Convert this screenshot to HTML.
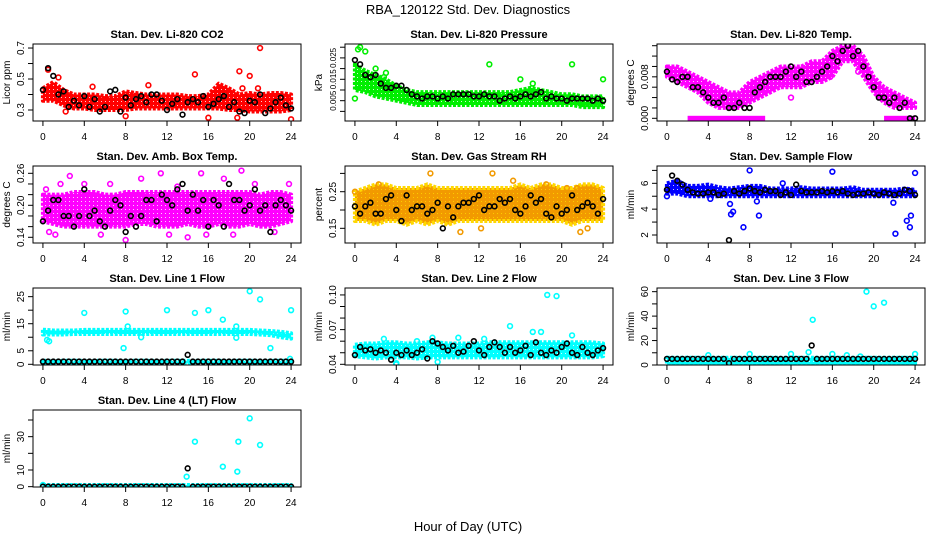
<!DOCTYPE html>
<html><head><meta charset="utf-8"><style>
html,body{margin:0;padding:0;background:#fff}
svg{display:block;font-family:"Liberation Sans",sans-serif}
</style></head><body>
<svg id="chart" width="936" height="540" viewBox="0 0 936 540" xmlns="http://www.w3.org/2000/svg">
<defs id="defs"></defs>
<text x="468" y="14" text-anchor="middle" font-size="13">RBA_120122  Std. Dev. Diagnostics</text>
<text x="468" y="531" text-anchor="middle" font-size="13">Hour of Day (UTC)</text>
</svg>
<script>
const xTicks = [0,4,8,12,16,20,24];
const halfHours = [];
for (let i = 0; i <= 48; i++) halfHours.push(i * 0.5);
const bandHours = [0,1,2,3,4,5,6,7,8,9,10,11,12,13,14,15,16,17,18,19,20,21,22,23,24];

// CO2
const co2Low = [0.36,0.36,0.33,0.31,0.31,0.30,0.30,0.30,0.30,0.31,0.31,0.31,0.31,0.31,0.31,0.31,0.31,0.31,0.30,0.30,0.29,0.29,0.29,0.29,0.30];
const co2High = [0.44,0.48,0.43,0.40,0.40,0.40,0.39,0.39,0.42,0.41,0.40,0.40,0.40,0.40,0.39,0.39,0.40,0.47,0.44,0.40,0.41,0.40,0.41,0.41,0.40];
const co2OutX = [0.5,1.5,4.8,10.2,14.7,16,18.8,19,19.3,20,20.8,21,24,2.2,8];
const co2OutY = [0.56,0.51,0.45,0.46,0.53,0.25,0.25,0.55,0.44,0.52,0.44,0.70,0.24,0.29,0.26];
const co2Black = [0.43,0.57,0.52,0.40,0.42,0.32,0.36,0.33,0.39,0.32,0.37,0.29,0.32,0.42,0.43,0.29,0.38,0.33,0.37,0.39,0.35,0.40,0.40,0.36,0.30,0.34,0.37,0.27,0.35,0.37,0.35,0.39,0.32,0.34,0.37,0.39,0.32,0.35,0.29,0.28,0.36,0.35,0.40,0.28,0.31,0.35,0.38,0.33,0.31];
// Pressure
const prLow = [.010,.009,.007,.006,.005,.004,.003,.003,.003,.003,.003,.003,.003,.003,.003,.003,.003,.003,.003,.003,.003,.003,.002,.002,.002];
const prHigh = [.022,.019,.017,.015,.012,.010,.009,.009,.009,.009,.009,.009,.009,.009,.009,.009,.010,.011,.010,.009,.008,.008,.007,.007,.007];
const prOutX = [0.3,0.5,13,21,24,0,16,17.2,1,2,3,2.8];
const prOutY = [.029,.030,.022,.022,.015,.006,.015,.013,.028,.020,.018,.016];
const prBlack = [.024,.022,.017,.016,.017,.013,.011,.011,.012,.012,.010,.008,.007,.006,.007,.007,.006,.007,.006,.008,.008,.008,.008,.007,.007,.008,.007,.007,.005,.006,.007,.006,.007,.008,.007,.008,.009,.006,.007,.006,.006,.005,.006,.006,.006,.006,.005,.006,.005];
// Li-820 Temp
const ltLow = [.008,.007,.006,.005,.003,.002,.002,.002,.003,.004,.005,.006,.006,.006,.007,.007,.008,.011,.011,.008,.005,.003,.002,.002,.002];
const ltHigh = [.010,.010,.009,.008,.007,.006,.005,.005,.007,.008,.009,.010,.010,.010,.011,.011,.013,.014,.014,.012,.008,.006,.005,.004,.003];
const ltZeroStart = [2,21];
const ltZeroEnd = [9.5,24];
const ltOutX = [0.3,15.8,18.5,12];
const ltOutY = [.0095,.008,.009,.004];
const ltBlack = [.009,.0075,.007,.008,.008,.006,.006,.005,.004,.003,.003,.004,.002,.002,.003,.002,.002,.005,.006,.007,.008,.008,.008,.009,.010,.008,.009,.007,.007,.008,.009,.010,.012,.011,.013,.014,.012,.013,.010,.008,.006,.004,.004,.003,.004,.002,.003,0,0];
// Amb Box Temp
const abLow = [.17,.165,.16,.16,.16,.16,.16,.16,.16,.165,.165,.16,.16,.16,.165,.16,.16,.165,.16,.16,.165,.16,.16,.165,.17];
const abHigh = [.22,.22,.22,.225,.225,.225,.22,.22,.225,.225,.225,.225,.225,.225,.225,.225,.225,.225,.225,.225,.225,.22,.225,.225,.22];
const abOutX = [1.7,2.6,4,8,11.4,15.3,19.2,9.5,13,17.5,23.8,0.6,1.2,5.6,12.2,14,15.8,18.4,22.4,0.3,6.5,20.5];
const abOutY = [.24,.255,.24,.135,.26,.26,.265,.25,.235,.25,.24,.15,.145,.145,.145,.14,.145,.145,.15,.23,.24,.24];
const abBlack = [.17,.19,.21,.21,.18,.18,.16,.18,.23,.18,.19,.17,.16,.19,.21,.20,.15,.18,.16,.18,.21,.21,.17,.22,.21,.20,.23,.24,.19,.22,.19,.21,.16,.21,.20,.16,.24,.21,.21,.19,.20,.23,.19,.20,.15,.20,.21,.20,.19];
// Gas stream RH
const rhLow = [.17,.17,.16,.17,.17,.16,.17,.16,.17,.16,.17,.17,.17,.17,.17,.17,.17,.17,.17,.17,.17,.16,.17,.17,.17];
const rhHigh = [.25,.26,.27,.27,.26,.26,.26,.27,.26,.26,.26,.26,.26,.26,.26,.26,.27,.26,.27,.27,.26,.26,.27,.27,.26];
const rhOutX = [0,2.3,7.3,13.3,15.3,18.5,20.5,21.5,21.8,10.2,12.2,22.5];
const rhOutY = [.25,.27,.30,.30,.28,.27,.26,.26,.14,.14,.15,.15];
const rhBlack = [.21,.19,.21,.22,.19,.19,.23,.24,.20,.17,.24,.20,.21,.21,.19,.20,.22,.15,.21,.18,.21,.22,.22,.23,.24,.20,.21,.21,.23,.22,.23,.20,.19,.21,.24,.22,.23,.19,.18,.21,.19,.20,.24,.20,.21,.22,.21,.19,.23];
// Sample flow
const sfLow = [5.2,5.2,5.0,5.0,5.0,5.0,5.0,5.0,5.0,5.0,5.0,5.0,5.0,5.0,5.0,5.0,5.0,5.0,5.0,5.0,5.0,5.0,5.0,5.0,5.0];
const sfHigh = [6.0,6.2,5.8,5.8,5.9,5.7,5.6,5.7,5.8,5.8,5.6,5.6,5.6,5.7,5.6,5.6,5.6,5.6,5.7,5.5,5.5,5.5,5.5,5.6,5.5];
const sfOutX = [0,6.1,6.2,6.4,7.4,8,8.9,11.2,16,21.9,22.1,23.2,23.5,23.6,24,8.7,4.2];
const sfOutY = [5.0,4.4,3.6,3.8,2.6,7.0,3.5,6.0,6.9,4.5,2.1,3.1,2.6,3.5,6.8,4.6,4.8];
const sfBlack = [5.5,6.6,6.2,5.9,5.5,5.3,5.2,5.2,5.3,5.3,5.1,5.2,1.6,5.4,5.2,5.4,5.6,5.4,5.3,5.5,5.4,5.4,5.1,5.3,5.1,5.9,5.4,5.3,5.3,5.3,5.4,5.3,5.4,5.3,5.4,5.2,5.1,5.2,5.2,5.3,5.2,5.1,5.3,5.2,5.1,5.2,5.5,5.4,5.1];
// Line 1
const l1Low = [11,11,11,11.2,11.2,11.2,11.2,11.2,11.2,11.2,11.2,11.2,11.2,11.2,11.2,11.2,11.2,11.2,11.2,11.2,11.2,11,10.8,10,9.5];
const l1High = [12.8,12.5,12.5,12.5,12.7,12.7,12.7,12.7,12.7,12.7,12.7,12.7,12.7,12.7,12.7,12.7,12.7,12.7,12.7,12.7,12.7,12.5,12.3,12,11.5];
const l1Low2 = [0.3,0.3,0.3,0.3,0.3,0.3,0.3,0.3,0.3,0.3,0.3,0.3,0.3,0.3,0.3,0.3,0.3,0.3,0.3,0.3,0.3,0.3,0.3,0.3,0.3];
const l1High2 = [1.3,1.3,1.3,1.3,1.3,1.3,1.3,1.3,1.3,1.3,1.3,1.3,1.3,1.3,1.3,1.3,1.3,1.3,1.3,1.3,1.3,1.3,1.3,1.3,1.3];
const l1OutX = [0.4,0.6,4,8,8.2,7.8,9.5,12,14.7,16,17.4,18.7,18.7,20,21,22,24,23.9];
const l1OutY = [9,8.5,19,19.5,14,6,10,20,19,20,16.5,14,9.8,27,24,6,20,2];
const l1Black = [1,1,1,1,1,1,1,1,1,1,1,1,1,1,1,1,1,1,1,1,1,1,1,1,1,1,1,1,3.5,1,1,1,1,1,1,1,1,1,1,1,1,1,1,1,1,1,1,1,1];
// Line 2
const l2Low = [.047,.046,.045,.046,.046,.046,.045,.046,.046,.046,.046,.046,.046,.046,.046,.046,.046,.046,.046,.046,.046,.046,.046,.046,.047];
const l2High = [.057,.058,.058,.059,.059,.058,.058,.059,.059,.058,.058,.058,.058,.059,.059,.059,.059,.059,.059,.059,.059,.059,.059,.059,.058];
const l2OutX = [2.8,4,6,7.5,10,15,17.2,18,18.6,19.5,21,8,4,12.5];
const l2OutY = [.062,.041,.06,.063,.063,.073,.068,.068,.10,.099,.065,.042,.04,.062];
const l2Black = [.048,.055,.052,.053,.050,.052,.05,.044,.05,.048,.052,.048,.05,.053,.045,.06,.058,.055,.052,.056,.05,.051,.056,.06,.052,.048,.055,.059,.055,.05,.055,.050,.052,.056,.048,.059,.05,.048,.052,.05,.055,.058,.05,.048,.055,.05,.048,.052,.054];
// Line 3
const l3Low = [0.5,0.5,0.5,0.5,0.5,0.5,0.5,0.5,0.5,0.5,0.5,0.5,0.5,0.5,0.5,0.5,0.5,0.5,0.5,0.5,0.5,0.5,0.5,0.5,0.5];
const l3High = [6,6,6,6,6,6,6,6,6,6,6,6,6,6,6,6,6,6,6,6,6,6,6,6,6];
const l3OutX = [4,8,12,13.7,14.1,16,17.4,18.7,19.3,20,21,24];
const l3OutY = [8,9,9,10.5,37,9,8,7,60,48,51,9];
const l3Black = [5,5,5,5,5,5,5,5,5,5,5,5,1.5,5,5,5,5,5,5,5,5,5,5,5,5,5,5,5,16,5,5,5,5,5,5,5,5,5,5,5,5,5,5,5,5,5,5,5,5];
// Line 4
const l4Low = [0,0,0,0,0,0,0,0,0,0,0,0,0,0,0,0,0,0,0,0,0,0,0,0,0];
const l4High = [1,1,1,1,1,1,1,1,1,1,1,1,1,1,1,1,1,1,1,1,1,1,1,1,1];
const l4OutX = [0,13.9,14.7,17.4,18.8,18.9,20,21];
const l4OutY = [1,6,27,12,9,27,41,25];
const l4Black = [0,0,0,0,0,0,0,0,0,0,0,0,0,0,0,0,0,0,0,0,0,0,0,0,0,0,0,0,11,0,0,0,0,0,0,0,0,0,0,0,0,0,0,0,0,0,0,0,0];

const panels = [
 {name:'co2',title:'Stan. Dev. Li-820 CO2',ylab:'Licor ppm',ylim:[0.229,0.726],ticks:[0.3,0.4,0.5,0.6,0.7],labels:{0.3:'0.3',0.5:'0.5',0.7:'0.7'},color:'#ff0000',bands:[[co2Low,co2High]],ox:co2OutX,oy:co2OutY,black:co2Black},
 {name:'pressure',title:'Stan. Dev. Li-820 Pressure',ylab:'kPa',ylim:[-0.0045,0.0315],ticks:[0,0.005,0.01,0.015,0.02,0.025,0.03],labels:{0.005:'0.005',0.015:'0.015',0.025:'0.025'},lfs:8,color:'#00ee00',bands:[[prLow,prHigh]],ox:prOutX,oy:prOutY,black:prBlack},
 {name:'li820-temp',title:'Stan. Dev. Li-820 Temp.',ylab:'degrees C',ylim:[-0.00052,0.01433],ticks:[0,0.002,0.004,0.006,0.008,0.01,0.012,0.014],labels:{0:'0.000',0.008:'0.008'},color:'#ff00ff',bands:[[ltLow,ltHigh]],zeros:[ltZeroStart,ltZeroEnd],ox:ltOutX,oy:ltOutY,black:ltBlack},
 {name:'amb-box-temp',title:'Stan. Dev. Amb. Box Temp.',ylab:'degrees C',ylim:[0.1293,0.2737],ticks:[0.14,0.16,0.18,0.2,0.22,0.24,0.26],labels:{0.14:'0.14',0.2:'0.20',0.26:'0.26'},color:'#ff00ff',bands:[[abLow,abHigh]],ox:abOutX,oy:abOutY,black:abBlack},
 {name:'gas-rh',title:'Stan. Dev. Gas Stream RH',ylab:'percent',ylim:[0.1099,0.3202],ticks:[0.15,0.2,0.25,0.3],labels:{0.15:'0.15',0.25:'0.25'},color:'#f29a00',edge:'#ffd800',bands:[[rhLow,rhHigh]],ox:rhOutX,oy:rhOutY,black:rhBlack},
 {name:'sample-flow',title:'Stan. Dev. Sample Flow',ylab:'ml/min',ylim:[1.38,7.34],ticks:[2,3,4,5,6,7],labels:{2:'2',4:'4',6:'6'},color:'#0000ff',bands:[[sfLow,sfHigh]],ox:sfOutX,oy:sfOutY,black:sfBlack},
 {name:'line1-flow',title:'Stan. Dev. Line 1 Flow',ylab:'ml/min',ylim:[-0.26,28.2],ticks:[0,5,10,15,20,25],labels:{0:'0',5:'5',15:'15',25:'25'},color:'#00ffff',bands:[[l1Low,l1High],[l1Low2,l1High2]],ox:l1OutX,oy:l1OutY,black:l1Black},
 {name:'line2-flow',title:'Stan. Dev. Line 2 Flow',ylab:'ml/min',ylim:[0.0394,0.106],ticks:[0.04,0.05,0.06,0.07,0.08,0.09,0.1],labels:{0.04:'0.04',0.07:'0.07',0.1:'0.10'},color:'#00ffff',bands:[[l2Low,l2High]],ox:l2OutX,oy:l2OutY,black:l2Black},
 {name:'line3-flow',title:'Stan. Dev. Line 3 Flow',ylab:'ml/min',ylim:[0,63],ticks:[0,10,20,30,40,50,60],labels:{0:'0',20:'20',40:'40',60:'60'},color:'#00ffff',bands:[[l3Low,l3High]],ox:l3OutX,oy:l3OutY,black:l3Black},
 {name:'line4-flow',title:'Stan. Dev. Line 4 (LT) Flow',ylab:'ml/min',ylim:[-0.2,46],ticks:[0,10,20,30,40],labels:{0:'0',10:'10',30:'30'},color:'#00ffff',bands:[[l4Low,l4High]],ox:l4OutX,oy:l4OutY,black:l4Black}
];

const svg = document.getElementById('chart');
const defs = document.getElementById('defs');
const NS = 'http://www.w3.org/2000/svg';
function mk(tag, attrs, parent){const e=document.createElementNS(NS,tag);for(const k in attrs)e.setAttribute(k,attrs[k]);(parent||svg).appendChild(e);return e;}

panels.forEach((p, idx) => {
  const c = idx % 3, r = Math.floor(idx / 3);
  const L = 33 + 312*c, T = 44 + 122*r, W = 268, H = 77;
  const xs = v => L + (v + 0.96) / 25.92 * W;
  const ys = v => T + H - (v - p.ylim[0]) / (p.ylim[1] - p.ylim[0]) * H;
  const pat = mk('pattern', {id:'pat'+idx, width:4, height:4, patternUnits:'userSpaceOnUse'}, defs);
  mk('rect', {x:0, y:0, width:4, height:4, fill:p.color}, pat);
  mk('rect', {x:1, y:1, width:1, height:1, fill:p.edge||'#ffffff', opacity:0.8}, pat);
  const g = mk('g', {});
  
  
  const clip = mk('clipPath', {id:'clip'+idx}, g);
  mk('rect', {x:L, y:T, width:W, height:H}, clip);
  const pg = mk('g', {'clip-path':'url(#clip'+idx+')'}, g);
  p.bands.forEach(b => {
    const pts = [];
    bandHours.forEach((h,i) => pts.push(xs(h).toFixed(1)+','+ys(b[1][i]).toFixed(1)));
    for (let i = bandHours.length-1; i >= 0; i--) pts.push(xs(bandHours[i]).toFixed(1)+','+ys(b[0][i]).toFixed(1));
    const poly = mk('polygon', {points:pts.join(' '), fill:'url(#pat'+idx+')', stroke:p.edge||p.color, 'stroke-width':4, 'stroke-linejoin':'round', 'stroke-dasharray':'3 1.5'}, pg);
    
    
  });
  if (p.zeros) {
    p.zeros[0].forEach((s,i) => {
      const rc = mk('rect', {x:xs(s), y:ys(0)-2.5, width:xs(p.zeros[1][i])-xs(s), height:5, fill:p.color}, pg);
      
      
    });
  }
  p.ox.forEach((x,i) => {
    const ci = mk('circle', {cx:xs(x), cy:ys(p.oy[i]), r:2.4, fill:'none', stroke:p.color, 'stroke-width':1.6}, pg);
    
    
  });
  p.black.forEach((v,i) => {
    const ci = mk('circle', {cx:xs(halfHours[i]), cy:ys(v), r:2.4, fill:'none', stroke:'#000', 'stroke-width':1.6}, pg);
    
    
  });
  const box = mk('rect', {x:L, y:T, width:W, height:H, fill:'none', stroke:'#000', 'stroke-width':1}, g);
  
  
  const tt = mk('text', {x:L+W/2, y:T-6, 'text-anchor':'middle', 'font-size':11, 'font-weight':'bold'}, g);
  tt.textContent = p.title;
  
  
  mk('line', {x1:xs(0), x2:xs(24), y1:T+H, y2:T+H, stroke:'#000'}, g);
  xTicks.forEach(t => {
    mk('line', {x1:xs(t), x2:xs(t), y1:T+H, y2:T+H+5, stroke:'#000'}, g);
    const tl = mk('text', {x:xs(t), y:T+H+19, 'text-anchor':'middle', 'font-size':10}, g);
    tl.textContent = t;
    
    
  });
  const tk = p.ticks.filter(t => t >= p.ylim[0]-1e-9 && t <= p.ylim[1]+1e-9);
  mk('line', {x1:L, x2:L, y1:ys(tk[0]), y2:ys(tk[tk.length-1]), stroke:'#000'}, g);
  tk.forEach(t => {
    mk('line', {x1:L-5, x2:L, y1:ys(t), y2:ys(t), stroke:'#000'}, g);
    const key = Object.keys(p.labels).find(k => Math.abs(parseFloat(k)-t) < 1e-9);
    if (key !== undefined) {
      const yl = mk('text', {x:0, y:0, 'text-anchor':'middle', 'font-size':p.lfs||10, transform:'translate('+(L-9)+','+ys(t)+') rotate(-90)'}, g);
      yl.textContent = p.labels[key];
      
      
    }
  });
  const ya = mk('text', {x:0, y:0, 'text-anchor':'middle', 'font-size':10, transform:'translate('+(L-23)+','+(T+H/2)+') rotate(-90)'}, g);
  ya.textContent = p.ylab;
  
  
});
</script>
</body></html>
